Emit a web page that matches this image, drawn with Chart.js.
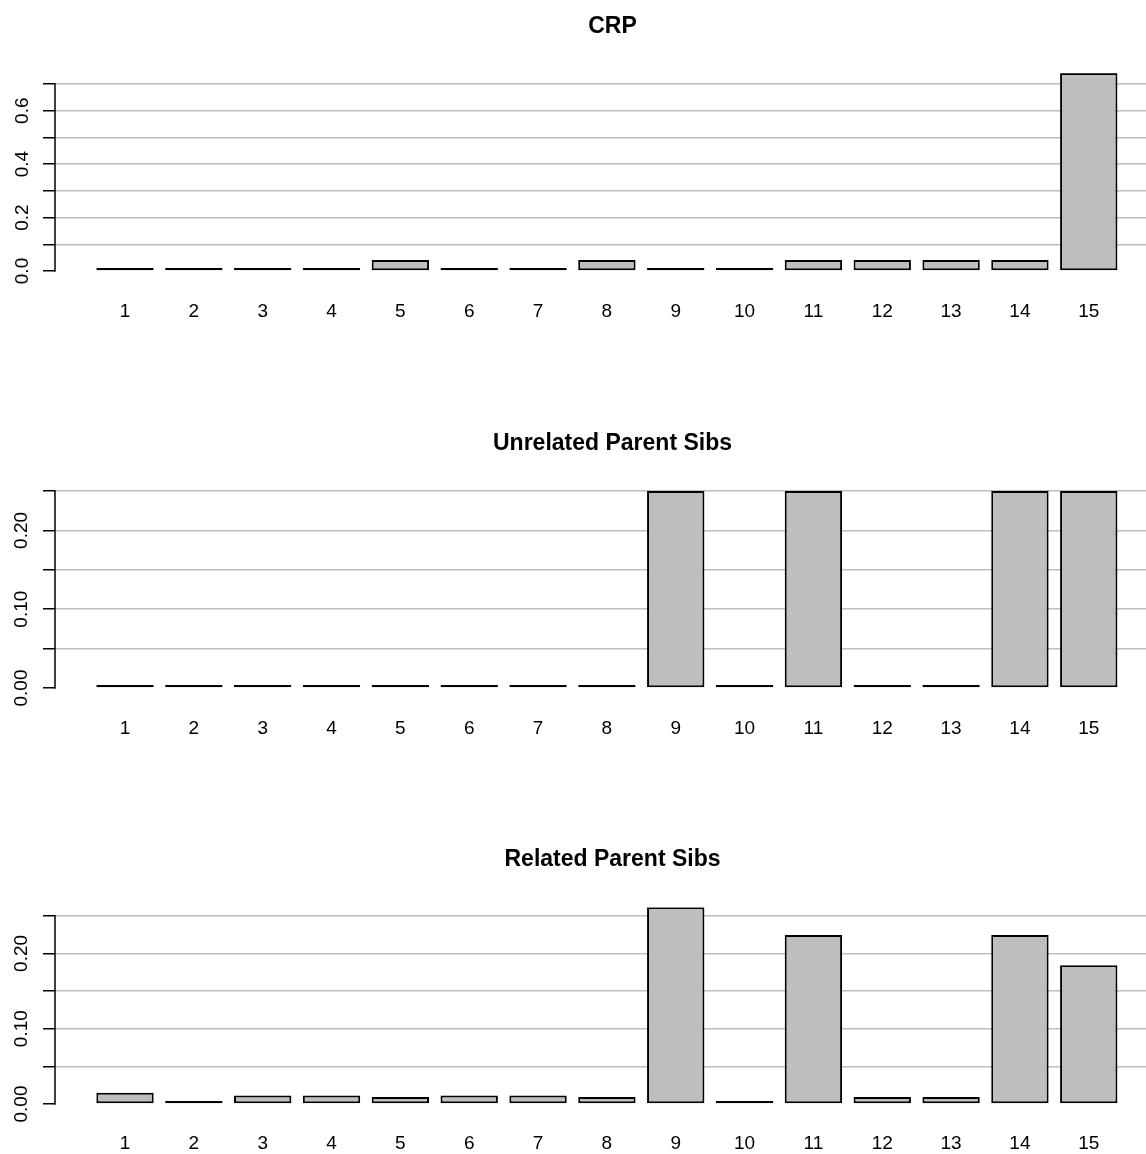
<!DOCTYPE html>
<html>
<head>
<meta charset="utf-8">
<script src="https://cdn.jsdelivr.net/npm/chart.js@4.4.1/dist/chart.umd.min.js"></script>
<style>
  html, body { margin: 0; padding: 0; background: #ffffff; overflow: hidden; width: 1146px; height: 1154px; }
  canvas { position: absolute; left: 0; }
</style>
</head>
<body>
<!-- plot region runs past the right edge, as in the R original -->
<canvas id="crpChart" width="1170" height="385" style="top:0px"></canvas>
<canvas id="unrelatedChart" width="1170" height="385" style="top:385px"></canvas>
<canvas id="relatedChart" width="1170" height="384" style="top:770px"></canvas>
<script>
const categories = [1, 2, 3, 4, 5, 6, 7, 8, 9, 10, 11, 12, 13, 14, 15];

const crpValues = [0.0005, 0.001, 0.002, 0.002, 0.041, 0.002, 0.002, 0.041, 0.001, 0.001, 0.041, 0.041, 0.041, 0.041, 0.741];
const unrelatedValues = [0, 0, 0, 0, 0, 0, 0, 0, 0.25, 0, 0.25, 0, 0, 0.25, 0.25];
const relatedValues = [0.015, 0, 0.0114, 0.0114, 0.0093, 0.0114, 0.0114, 0.0093, 0.2612, 0, 0.2243, 0.0093, 0.0093, 0.2243, 0.1844];

const crpTicks = [0, 0.1, 0.2, 0.3, 0.4, 0.5, 0.6, 0.7];
const crpTickLabels = ["0.0", "", "0.2", "", "0.4", "", "0.6", ""];
const sibTicks = [0, 0.05, 0.1, 0.15, 0.2, 0.25];
const sibTickLabels = ["0.00", "", "0.10", "", "0.20", ""];

const FONT = "'Liberation Sans', Arial, Helvetica, sans-serif";

// R style axis line: only from first to last tick
const axisLinePlugin = {
  id: "axisLine",
  afterDraw(chart) {
    const y = chart.scales.y;
    const ticks = y.ticks;
    const ctx = chart.ctx;
    ctx.save();
    ctx.strokeStyle = "#000000";
    ctx.lineWidth = 1.5;
    ctx.beginPath();
    ctx.moveTo(chart.chartArea.left, y.getPixelForValue(ticks[0].value) + 0.75);
    ctx.lineTo(chart.chartArea.left, y.getPixelForValue(ticks[ticks.length - 1].value) - 0.75);
    ctx.stroke();
    ctx.restore();
  },
};

function makePanel(canvasId, titleText, values, yMax, yTicks, yTickLabels, padTop, padBottom, xHeight, xLabelPad, yLabelPad) {
  const data = {
    datasets: [
      {
        data: categories.map((c, i) => ({ x: c, y: values[i] })),
        backgroundColor: "#bebebe",
        borderColor: "#000000",
        borderWidth: 2,
        borderSkipped: false,
        minBarLength: 3,
        barPercentage: 1 / 1.2,
        categoryPercentage: 1,
      },
    ],
  };

  return new Chart(document.getElementById(canvasId), {
    type: "bar",
    data: data,
    plugins: [axisLinePlugin],
    options: {
      responsive: false,
      animation: false,
      layout: { autoPadding: false, padding: 0 },
      plugins: {
        legend: { display: false },
        tooltip: { enabled: false },
        title: {
          display: true,
          fullSize: false,
          text: titleText,
          color: "#000000",
          font: { family: FONT, size: 23, weight: "bold" },
          padding: { top: padTop, bottom: padBottom },
        },
      },
      scales: {
        x: {
          type: "linear",
          offset: false,
          min: -0.017,
          max: 16.18,
          afterBuildTicks: (scale) => {
            scale.ticks = categories.map((c) => ({ value: c }));
          },
          afterFit: (scale) => {
            scale.height = xHeight;
          },
          grid: { display: false, drawTicks: false },
          border: { display: false },
          ticks: {
            color: "#000000",
            font: { family: FONT, size: 19 },
            padding: xLabelPad,
            maxRotation: 0,
            autoSkip: false,
            callback: (v) => String(v),
          },
        },
        y: {
          min: 0,
          max: yMax,
          afterBuildTicks: (scale) => {
            scale.ticks = yTicks.map((v) => ({ value: v }));
          },
          afterFit: (scale) => {
            scale.width = 55;
          },
          border: { display: false },
          grid: {
            color: (ctx) => (ctx.tick && ctx.tick.value === 0 ? "rgba(0,0,0,0)" : "#bebebe"),
            lineWidth: 1.5,
            tickColor: "#000000",
            tickLength: 12,
            tickWidth: 1.5,
          },
          ticks: {
            color: "#000000",
            font: { family: FONT, size: 19 },
            minRotation: 90,
            maxRotation: 90,
            crossAlign: "center",
            padding: yLabelPad,
            autoSkip: false,
            callback: (v, i) => yTickLabels[i],
          },
        },
      },
    },
  });
}

makePanel("crpChart", "CRP", crpValues, 0.74, crpTicks, crpTickLabels, 13.2, 32.5, 114, 29, 7.5);
makePanel("unrelatedChart", "Unrelated Parent Sibs", unrelatedValues, 0.25, sibTicks, sibTickLabels, 45.2, 33.2, 82, 29, 2.5);
makePanel("relatedChart", "Related Parent Sibs", relatedValues, 0.2612, sibTicks, sibTickLabels, 76.2, 33.5, 50, 28, 2.5);
</script>
</body>
</html>
